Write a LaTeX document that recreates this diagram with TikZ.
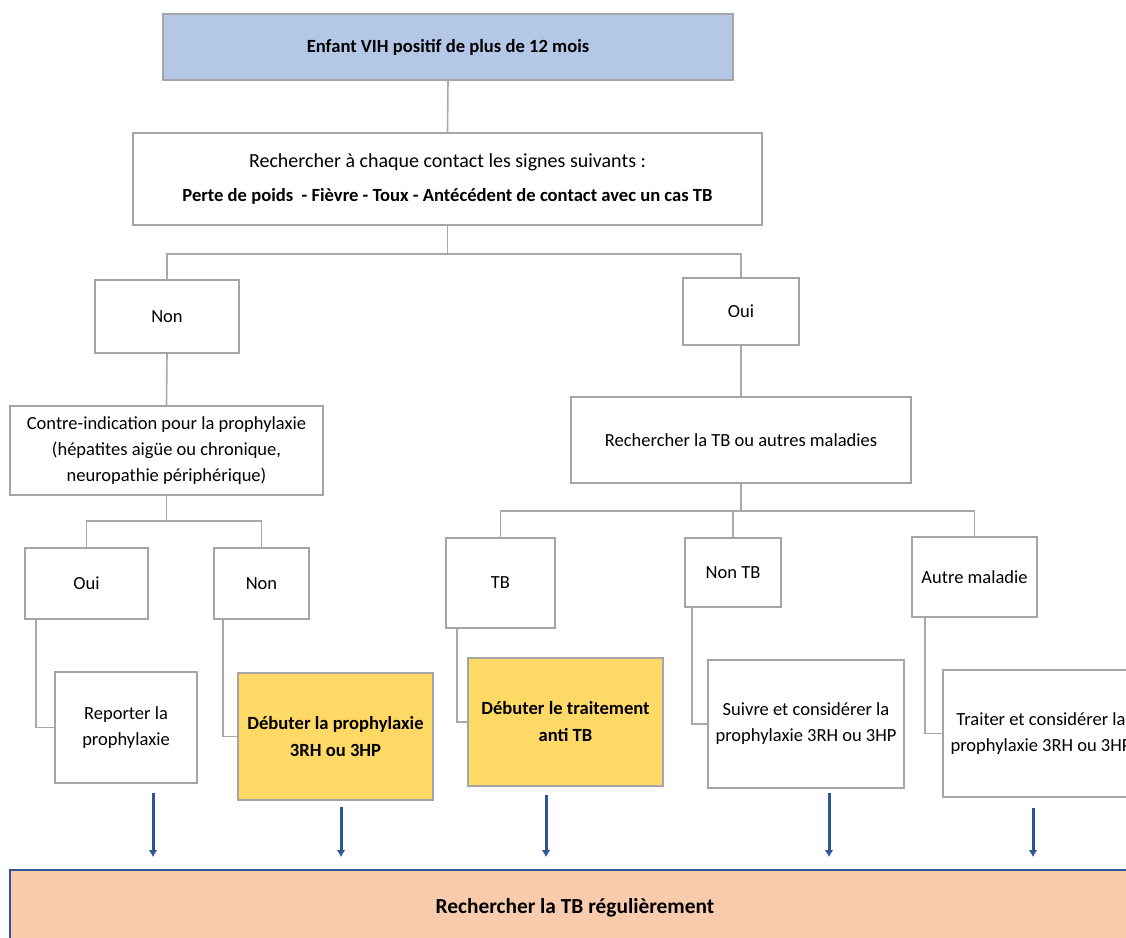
\documentclass[tikz,border=0pt]{standalone}
\usepackage{fontspec}
\setmainfont{Carlito}
\usetikzlibrary{calc,arrows.meta}
\definecolor{boxgray}{HTML}{A5A5A5}
\definecolor{linegray}{HTML}{A9A9A9}
\definecolor{topblue}{HTML}{B4C7E7}
\definecolor{gold}{HTML}{FFD966}
\definecolor{peach}{HTML}{F8CBAD}
\definecolor{navy}{HTML}{2F5597}

\begin{document}
\begin{tikzpicture}[x=0.5pt,y=-0.5pt,
  box/.style={draw=boxgray, line width=1.2pt, fill=white, align=center,
    inner sep=0pt, font=\fontsize{9.25}{13}\selectfont},
  boldbox/.style={box, font=\fontsize{9.3}{13.5}\selectfont\bfseries},
  dim/.style 2 args={minimum width=#1, minimum height=#2},
  link/.style={draw=linegray, line width=0.8pt},
  arr/.style={draw=navy, line width=1.5pt, -{Latex[length=3.5pt,width=4.5pt]}}
]
\useasboundingbox (0,0) rectangle (1126,938);

% main trunk
\node[boldbox, fill=topblue, dim={285pt}{33pt}]
  (top) at (448,47) {Enfant VIH positif de plus de 12 mois};
\node[box, dim={314.5pt}{46pt}] (signes) at (447.5,179)
  {{\fontsize{10}{13}\selectfont Rechercher à chaque contact les signes suivants :}\\[4pt]
   {\fontsize{9.3}{13}\selectfont\bfseries Perte de poids\ \ - Fièvre - Toux - Antécédent de contact avec un cas TB}};

% first branching
\node[box, dim={72pt}{36.5pt}] (non1) at (167,316.5) {Non};
\node[box, dim={58pt}{33.5pt}] (oui1) at (741,311.5) {Oui};

\node[box, dim={156.5pt}{44.5pt}] (contre) at (166.5,450.5)
  {Contre-indication pour la prophylaxie\\(hépatites aigüe ou chronique,\\neuropathie périphérique)};
\node[box, dim={170pt}{43pt}] (rech) at (741,440) {Rechercher la TB ou autres maladies};

% second level answers
\node[box, dim={61.5pt}{35.5pt}] (oui2) at (86.5,583.5) {Oui};
\node[box, dim={47.5pt}{35.5pt}] (non2) at (261.5,583.5) {Non};
\node[box, dim={54.5pt}{45pt}] (tb) at (500.5,583) {TB};
\node[box, dim={48pt}{34.5pt}] (nontb) at (733,572.5) {Non TB};
\node[box, dim={62.5pt}{40pt}] (autre) at (974.5,577) {Autre maladie};

% actions
\node[box, dim={71pt}{55.5pt}] (rep) at (126,727.5) {Reporter la\\prophylaxie};
\node[boldbox, fill=gold, dim={97.5pt}{63.5pt}]
  (deb1) at (335.5,736.5) {Débuter la prophylaxie\\3RH ou 3HP};
\node[boldbox, fill=gold, dim={97.5pt}{64pt}]
  (deb2) at (565.5,722) {Débuter le traitement\\anti TB};
\node[box, dim={98pt}{64pt}] (suiv) at (806,724) {Suivre et considérer la\\prophylaxie 3RH ou 3HP};
\node[box, dim={98pt}{63.5pt}] (trait) at (1041,733.5) {Traiter et considérer la\\prophylaxie 3RH ou 3HP};

% common final step
\node[box, draw=navy, fill=peach, line width=1pt, dim={565pt}{38pt},
  font=\fontsize{10.7}{13}\selectfont\bfseries] (final) at (575,908) {Rechercher la TB régulièrement};

% tree connectors
\draw[link] (top.south) -- (signes.north);
\draw[link] (signes.south) -- ++(0,28) -| (non1.north);
\draw[link] (signes.south) -- ++(0,28) -| (oui1.north);
\draw[link] (non1.south) -- (contre.north);
\draw[link] (oui1.south) -- (rech.north);
\draw[link] (contre.south) -- ++(0,25) -| (oui2.north);
\draw[link] (contre.south) -- ++(0,25) -| (non2.north);
\draw[link] (rech.south) -- ++(0,27) -| (tb.north);
\draw[link] (rech.south) -- ++(0,27) -| (nontb.north);
\draw[link] (rech.south) -- ++(0,27) -| (autre.north);

% elbow links into the action boxes
\draw[link] ($(oui2.south west)+(12,0)$) |- (rep.west);
\draw[link] ($(non2.south west)+(10,0)$) |- (deb1.west);
\draw[link] ($(tb.south west)+(12,0)$) |- (deb2.west);
\draw[link] ($(nontb.south west)+(8,0)$) |- (suiv.west);
\draw[link] ($(autre.south west)+(14,0)$) |- (trait.west);

% arrows down to the final step
\coordinate (a1) at (153,793);
\coordinate (a2) at (341,807);
\coordinate (a3) at (546,795);
\coordinate (a4) at (829,793);
\coordinate (a5) at (1033,808);
\foreach \a in {a1,a2,a3,a4,a5}
  \draw[arr] (\a) -- ($(\a |- final.north)+(0,-12)$);
\end{tikzpicture}
\end{document}
